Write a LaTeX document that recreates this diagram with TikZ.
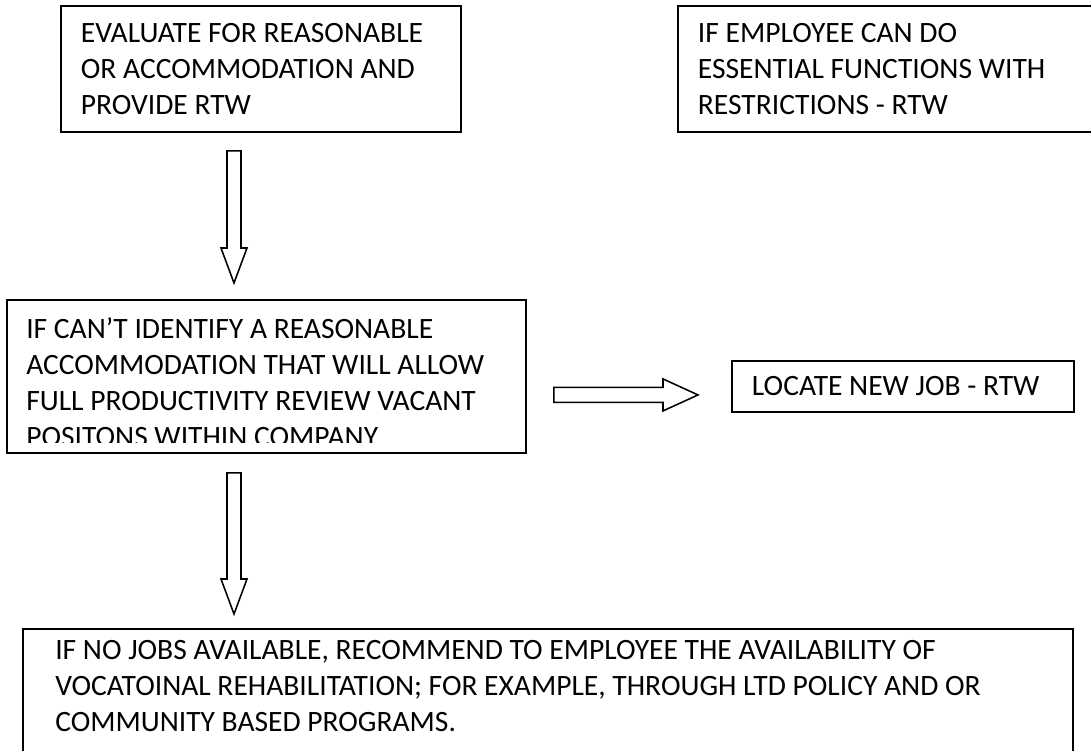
\documentclass[tikz,border=0pt]{standalone}
\usepackage{fontspec}
\setmainfont{Carlito}
\usetikzlibrary{calc}

\tikzset{
  flowbox/.style={draw,line width=1.3pt,anchor=north west,align=flush left,inner xsep=0.5cm,inner ysep=0pt,font=\fontsize{21}{25.6}\selectfont},
  flowtext/.style={anchor=north west,align=flush left,inner sep=0pt,font=\fontsize{21}{25.6}\selectfont},
  blockline/.style={line width=1.1pt,line join=miter},
  downarrow/.style={to path={($(\tikztostart)+(-7,0)$) -- ($(\tikztotarget)+(-7,-35)$) -- ($(\tikztotarget)+(-13,-35)$) -- (\tikztotarget) -- ($(\tikztotarget)+(13,-35)$) -- ($(\tikztotarget)+(7,-35)$) -- ($(\tikztostart)+(7,0)$) -- cycle}},
  rightarrow/.style={to path={($(\tikztostart)+(0,-7.5)$) -- ($(\tikztotarget)+(-35,-7.5)$) -- ($(\tikztotarget)+(-35,-16)$) -- (\tikztotarget) -- ($(\tikztotarget)+(-35,16)$) -- ($(\tikztotarget)+(-35,7.5)$) -- ($(\tikztostart)+(0,7.5)$) -- cycle}}
}

\begin{document}
\begin{tikzpicture}[x=0.025cm,y=-0.025cm]
\useasboundingbox (0,0) rectangle (1091,750);
\clip (0,0) rectangle (1091,750);
% top row
\node[flowbox,minimum width=10cm,minimum height=3.15cm,text width=9cm] (evaluate) at (60,5) {EVALUATE FOR REASONABLE\\OR ACCOMMODATION AND\\PROVIDE RTW};
\node[flowbox,minimum width=10.575cm,minimum height=3.15cm,text width=9.575cm] (essential) at (677,5) {IF EMPLOYEE CAN DO\\ESSENTIAL FUNCTIONS WITH\\RESTRICTIONS - RTW};
% middle row
\node[flowbox,minimum width=12.975cm,minimum height=3.825cm] (vacant) at (6,299) {};
\begin{scope}
\clip (vacant.north west) rectangle ($(vacant.south east)+(0,-11)$);
\node[flowtext] (vacanttext) at (26,317) {IF CAN’T IDENTIFY A REASONABLE\\ACCOMMODATION THAT WILL ALLOW\\FULL PRODUCTIVITY REVIEW VACANT\\POSITONS WITHIN COMPANY};
\end{scope}
\node[flowbox,minimum width=8.55cm,minimum height=1.275cm,text width=7.55cm] (locate) at (731,360) {LOCATE NEW JOB - RTW};
% bottom row
\node[flowbox,minimum width=26.25cm,minimum height=4.3cm] (programs) at (22,628) {};
\node[flowtext] (programstext) at (55,640) {IF NO JOBS AVAILABLE, RECOMMEND TO EMPLOYEE THE AVAILABILITY OF\\VOCATOINAL REHABILITATION; FOR EXAMPLE, THROUGH LTD POLICY AND OR\\COMMUNITY BASED PROGRAMS.};
% block arrows
\coordinate (a1top) at ($(evaluate.south west)+(174,18)$);
\coordinate (a1tip) at ($(vacant.north west)+(228,-16)$);
\coordinate (a2top) at ($(vacant.south west)+(228,19)$);
\coordinate (a2tip) at ($(programs.north west)+(212,-14)$);
\coordinate (a3tail) at ($(vacant.east)+(27,18.5)$);
\coordinate (a3tip) at ($(locate.west)+(-33,8.5)$);
\draw[blockline] (a1top) to[downarrow] (a1tip);
\draw[blockline] (a2top) to[downarrow] (a2tip);
\draw[blockline] (a3tail) to[rightarrow] (a3tip);
\end{tikzpicture}
\end{document}
